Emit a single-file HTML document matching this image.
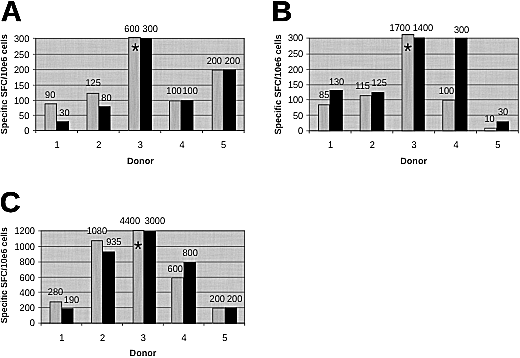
<!DOCTYPE html>
<html><head><meta charset="utf-8"><title>Figure</title>
<style>
html,body{margin:0;padding:0;background:#fff;}
body{width:520px;height:358px;overflow:hidden;}
svg{display:block;}
text{font-family:"Liberation Sans",Arial,sans-serif;fill:#383838;text-rendering:geometricPrecision;}
.t{font-size:9.75px;}
.b{font-size:9.1px;font-weight:bold;}
.L{font-size:28.6px;font-weight:bold;fill:#000;stroke:#000;stroke-width:0.5px;}
.s{font-size:21px;fill:#000;}
</style></head><body>
<svg width="520" height="358" viewBox="0 0 520 358">
<defs>
<pattern id="dots" width="2" height="2" patternUnits="userSpaceOnUse">
<rect width="2" height="2" fill="#c4c4c4"/>
<rect width="1" height="1" fill="#bababa"/>
<rect x="1" y="1" width="1" height="1" fill="#cccccc"/>
</pattern>
<filter id="noise" x="0" y="0" width="1" height="1" color-interpolation-filters="sRGB">
<feTurbulence type="fractalNoise" baseFrequency="0.45 0.03" numOctaves="2" seed="5" result="n1"/>
<feTurbulence type="fractalNoise" baseFrequency="0.03 0.45" numOctaves="2" seed="9" result="n2"/>
<feTurbulence type="fractalNoise" baseFrequency="0.7" numOctaves="1" seed="2" result="n3"/>
<feComposite in="n1" in2="n2" operator="arithmetic" k2="0.5" k3="0.5" result="n12"/>
<feComposite in="n12" in2="n3" operator="arithmetic" k2="0.65" k3="0.35" result="n"/>
<feColorMatrix in="n" type="matrix" values="0.16 0 0 0 0.69  0.16 0 0 0 0.69  0.16 0 0 0 0.69  0 0 0 0 1"/>
</filter>
<filter id="noiseb" x="0" y="0" width="1" height="1" color-interpolation-filters="sRGB">
<feTurbulence type="fractalNoise" baseFrequency="0.5 0.04" numOctaves="2" seed="11" result="n1"/>
<feTurbulence type="fractalNoise" baseFrequency="0.7" numOctaves="1" seed="4" result="n3"/>
<feComposite in="n1" in2="n3" operator="arithmetic" k2="0.6" k3="0.4" result="n"/>
<feColorMatrix in="n" type="matrix" values="0.16 0 0 0 0.61  0.16 0 0 0 0.61  0.16 0 0 0 0.61  0 0 0 0 1"/>
</filter>
<filter id="usm" x="0" y="0" width="520" height="358" filterUnits="userSpaceOnUse" color-interpolation-filters="sRGB">
<feGaussianBlur in="SourceGraphic" stdDeviation="0.3" result="s"/>
<feGaussianBlur in="s" stdDeviation="1.0" result="bl"/>
<feComposite in="s" in2="bl" operator="arithmetic" k1="0" k2="2.4" k3="-1.4" k4="0"/>
</filter>
</defs>
<g filter="url(#usm)">
<rect width="520" height="358" fill="#fff"/>
<rect x="35.8" y="38.3" width="208.30" height="92.20" fill="#c4c4c4" filter="url(#noise)"/>
<line x1="33.0" y1="130.50" x2="244.1" y2="130.50" stroke="#606060" stroke-width="0.75"/>
<text transform="translate(29.30,133.80) scale(0.94,1)" text-anchor="end" class="t">0</text>
<line x1="33.0" y1="115.30" x2="244.1" y2="115.30" stroke="#606060" stroke-width="0.75"/>
<text transform="translate(29.30,118.60) scale(0.94,1)" text-anchor="end" class="t">50</text>
<line x1="33.0" y1="100.40" x2="244.1" y2="100.40" stroke="#606060" stroke-width="0.75"/>
<text transform="translate(29.30,103.70) scale(0.94,1)" text-anchor="end" class="t">100</text>
<line x1="33.0" y1="85.20" x2="244.1" y2="85.20" stroke="#606060" stroke-width="0.75"/>
<text transform="translate(29.30,88.50) scale(0.94,1)" text-anchor="end" class="t">150</text>
<line x1="33.0" y1="69.60" x2="244.1" y2="69.60" stroke="#606060" stroke-width="0.75"/>
<text transform="translate(29.30,72.90) scale(0.94,1)" text-anchor="end" class="t">200</text>
<line x1="33.0" y1="54.30" x2="244.1" y2="54.30" stroke="#606060" stroke-width="0.75"/>
<text transform="translate(29.30,57.60) scale(0.94,1)" text-anchor="end" class="t">250</text>
<line x1="33.0" y1="38.30" x2="35.8" y2="38.30" stroke="#606060" stroke-width="0.75"/>
<text transform="translate(29.30,41.60) scale(0.94,1)" text-anchor="end" class="t">300</text>
<rect x="35.8" y="38.3" width="208.30" height="92.20" fill="none" stroke="#606060" stroke-width="0.85"/>
<rect x="45.00" y="103.88" width="11.60" height="26.62" fill="#b0b0b0" filter="url(#noiseb)"/>
<rect x="45.00" y="103.88" width="11.60" height="26.62" fill="none" stroke="#3c3c3c" stroke-width="0.8"/>
<rect x="56.60" y="121.38" width="12.40" height="9.52" fill="#000"/>
<rect x="87.00" y="93.30" width="11.80" height="37.20" fill="#b0b0b0" filter="url(#noiseb)"/>
<rect x="87.00" y="93.30" width="11.80" height="37.20" fill="none" stroke="#3c3c3c" stroke-width="0.8"/>
<rect x="98.80" y="106.36" width="11.70" height="24.54" fill="#000"/>
<rect x="128.80" y="37.70" width="11.50" height="92.80" fill="#b0b0b0" filter="url(#noiseb)"/>
<rect x="128.80" y="37.70" width="11.50" height="92.80" fill="none" stroke="#3c3c3c" stroke-width="0.8"/>
<rect x="140.30" y="38.30" width="11.50" height="92.60" fill="#000"/>
<rect x="169.60" y="100.90" width="11.30" height="29.60" fill="#b0b0b0" filter="url(#noiseb)"/>
<rect x="169.60" y="100.90" width="11.30" height="29.60" fill="none" stroke="#3c3c3c" stroke-width="0.8"/>
<rect x="180.90" y="100.40" width="12.50" height="30.50" fill="#000"/>
<rect x="212.20" y="70.10" width="11.00" height="60.40" fill="#b0b0b0" filter="url(#noiseb)"/>
<rect x="212.20" y="70.10" width="11.00" height="60.40" fill="none" stroke="#3c3c3c" stroke-width="0.8"/>
<rect x="223.20" y="69.60" width="12.80" height="61.30" fill="#000"/>
<line x1="35.80" y1="130.5" x2="35.80" y2="133.1" stroke="#606060" stroke-width="1"/>
<line x1="77.46" y1="130.5" x2="77.46" y2="133.1" stroke="#606060" stroke-width="1"/>
<line x1="119.12" y1="130.5" x2="119.12" y2="133.1" stroke="#606060" stroke-width="1"/>
<line x1="160.78" y1="130.5" x2="160.78" y2="133.1" stroke="#606060" stroke-width="1"/>
<line x1="202.44" y1="130.5" x2="202.44" y2="133.1" stroke="#606060" stroke-width="1"/>
<line x1="244.10" y1="130.5" x2="244.10" y2="133.1" stroke="#606060" stroke-width="1"/>
<text transform="translate(57.03,148.10) scale(0.94,1)" text-anchor="middle" class="t">1</text>
<text transform="translate(98.69,148.10) scale(0.94,1)" text-anchor="middle" class="t">2</text>
<text transform="translate(140.35,148.10) scale(0.94,1)" text-anchor="middle" class="t">3</text>
<text transform="translate(182.01,148.10) scale(0.94,1)" text-anchor="middle" class="t">4</text>
<text transform="translate(223.67,148.10) scale(0.94,1)" text-anchor="middle" class="t">5</text>
<text transform="translate(50.20,97.50) scale(0.94,1)" text-anchor="middle" class="t">90</text>
<text transform="translate(64.45,116.00) scale(0.94,1)" text-anchor="middle" class="t">30</text>
<text transform="translate(93.15,86.00) scale(0.94,1)" text-anchor="middle" class="t">125</text>
<text transform="translate(106.40,100.60) scale(0.94,1)" text-anchor="middle" class="t">80</text>
<text transform="translate(131.95,31.50) scale(0.94,1)" text-anchor="middle" class="t">600</text>
<text transform="translate(150.20,31.50) scale(0.94,1)" text-anchor="middle" class="t">300</text>
<text transform="translate(173.95,94.00) scale(0.94,1)" text-anchor="middle" class="t">100</text>
<text transform="translate(190.10,94.00) scale(0.94,1)" text-anchor="middle" class="t">100</text>
<text transform="translate(214.30,64.00) scale(0.94,1)" text-anchor="middle" class="t">200</text>
<text transform="translate(232.35,64.00) scale(0.94,1)" text-anchor="middle" class="t">200</text>
<text x="135.3" y="57.8" text-anchor="middle" class="s">*</text>
<text x="140.4" y="164.3" text-anchor="middle" class="b">Donor</text>
<text transform="translate(7.3,84.2) rotate(-90)" text-anchor="middle" textLength="100" lengthAdjust="spacingAndGlyphs" class="b">Specific SFC/10e6 cells</text>
<text x="0.9" y="21.4" class="L">A</text>
<rect x="309.2" y="38.1" width="209.10" height="92.70" fill="#c4c4c4" filter="url(#noise)"/>
<line x1="306.4" y1="130.80" x2="518.3" y2="130.80" stroke="#606060" stroke-width="0.75"/>
<text transform="translate(303.20,134.10) scale(0.94,1)" text-anchor="end" class="t">0</text>
<line x1="306.4" y1="115.20" x2="518.3" y2="115.20" stroke="#606060" stroke-width="0.75"/>
<text transform="translate(303.20,118.50) scale(0.94,1)" text-anchor="end" class="t">50</text>
<line x1="306.4" y1="99.70" x2="518.3" y2="99.70" stroke="#606060" stroke-width="0.75"/>
<text transform="translate(303.20,103.00) scale(0.94,1)" text-anchor="end" class="t">100</text>
<line x1="306.4" y1="84.80" x2="518.3" y2="84.80" stroke="#606060" stroke-width="0.75"/>
<text transform="translate(303.20,88.10) scale(0.94,1)" text-anchor="end" class="t">150</text>
<line x1="306.4" y1="69.40" x2="518.3" y2="69.40" stroke="#606060" stroke-width="0.75"/>
<text transform="translate(303.20,72.70) scale(0.94,1)" text-anchor="end" class="t">200</text>
<line x1="306.4" y1="54.10" x2="518.3" y2="54.10" stroke="#606060" stroke-width="0.75"/>
<text transform="translate(303.20,57.40) scale(0.94,1)" text-anchor="end" class="t">250</text>
<line x1="306.4" y1="38.10" x2="309.2" y2="38.10" stroke="#606060" stroke-width="0.75"/>
<text transform="translate(303.20,41.40) scale(0.94,1)" text-anchor="end" class="t">300</text>
<rect x="309.2" y="38.1" width="209.10" height="92.70" fill="none" stroke="#606060" stroke-width="0.85"/>
<rect x="318.60" y="104.85" width="11.00" height="25.95" fill="#b0b0b0" filter="url(#noiseb)"/>
<rect x="318.60" y="104.85" width="11.00" height="25.95" fill="none" stroke="#3c3c3c" stroke-width="0.8"/>
<rect x="329.60" y="90.00" width="13.10" height="41.20" fill="#000"/>
<rect x="360.10" y="95.73" width="11.40" height="35.07" fill="#b0b0b0" filter="url(#noiseb)"/>
<rect x="360.10" y="95.73" width="11.40" height="35.07" fill="none" stroke="#3c3c3c" stroke-width="0.8"/>
<rect x="371.50" y="92.25" width="12.80" height="38.95" fill="#000"/>
<rect x="402.00" y="34.70" width="11.90" height="96.10" fill="#b0b0b0" filter="url(#noiseb)"/>
<rect x="402.00" y="34.70" width="11.90" height="96.10" fill="none" stroke="#3c3c3c" stroke-width="0.8"/>
<rect x="413.90" y="37.60" width="10.80" height="93.60" fill="#000"/>
<rect x="442.80" y="100.20" width="12.10" height="30.60" fill="#b0b0b0" filter="url(#noiseb)"/>
<rect x="442.80" y="100.20" width="12.10" height="30.60" fill="none" stroke="#3c3c3c" stroke-width="0.8"/>
<rect x="454.90" y="37.80" width="12.50" height="93.40" fill="#000"/>
<rect x="484.80" y="128.20" width="11.80" height="2.60" fill="#e8e8e8"/>
<rect x="484.80" y="128.20" width="11.80" height="2.60" fill="none" stroke="#3c3c3c" stroke-width="0.8"/>
<rect x="496.60" y="121.44" width="12.30" height="9.76" fill="#000"/>
<line x1="309.20" y1="130.8" x2="309.20" y2="133.4" stroke="#606060" stroke-width="1"/>
<line x1="351.02" y1="130.8" x2="351.02" y2="133.4" stroke="#606060" stroke-width="1"/>
<line x1="392.84" y1="130.8" x2="392.84" y2="133.4" stroke="#606060" stroke-width="1"/>
<line x1="434.66" y1="130.8" x2="434.66" y2="133.4" stroke="#606060" stroke-width="1"/>
<line x1="476.48" y1="130.8" x2="476.48" y2="133.4" stroke="#606060" stroke-width="1"/>
<line x1="518.30" y1="130.8" x2="518.30" y2="133.4" stroke="#606060" stroke-width="1"/>
<text transform="translate(330.51,148.10) scale(0.94,1)" text-anchor="middle" class="t">1</text>
<text transform="translate(372.33,148.10) scale(0.94,1)" text-anchor="middle" class="t">2</text>
<text transform="translate(414.15,148.10) scale(0.94,1)" text-anchor="middle" class="t">3</text>
<text transform="translate(455.97,148.10) scale(0.94,1)" text-anchor="middle" class="t">4</text>
<text transform="translate(497.79,148.10) scale(0.94,1)" text-anchor="middle" class="t">5</text>
<text transform="translate(324.20,98.30) scale(0.94,1)" text-anchor="middle" class="t">85</text>
<text transform="translate(336.55,84.90) scale(0.94,1)" text-anchor="middle" class="t">130</text>
<text transform="translate(362.65,88.80) scale(0.94,1)" text-anchor="middle" class="t">115</text>
<text transform="translate(379.20,85.70) scale(0.94,1)" text-anchor="middle" class="t">125</text>
<text transform="translate(399.80,30.90) scale(0.94,1)" text-anchor="middle" class="t">1700</text>
<text transform="translate(422.90,30.90) scale(0.94,1)" text-anchor="middle" class="t">1400</text>
<text transform="translate(446.50,93.80) scale(0.94,1)" text-anchor="middle" class="t">100</text>
<text transform="translate(461.55,33.00) scale(0.94,1)" text-anchor="middle" class="t">300</text>
<text transform="translate(489.55,122.30) scale(0.94,1)" text-anchor="middle" class="t">10</text>
<text transform="translate(503.10,115.40) scale(0.94,1)" text-anchor="middle" class="t">30</text>
<text x="407.9" y="57.9" text-anchor="middle" class="s">*</text>
<text x="413.6" y="164.3" text-anchor="middle" class="b">Donor</text>
<text transform="translate(280.7,84.5) rotate(-90)" text-anchor="middle" textLength="100" lengthAdjust="spacingAndGlyphs" class="b">Specific SFC/10e6 cells</text>
<text x="271.6" y="21.0" class="L">B</text>
<rect x="41.1" y="230.9" width="203.60" height="92.20" fill="#c4c4c4" filter="url(#noise)"/>
<line x1="38.300000000000004" y1="323.10" x2="244.7" y2="323.10" stroke="#606060" stroke-width="0.75"/>
<text transform="translate(34.90,326.40) scale(0.94,1)" text-anchor="end" class="t">0</text>
<line x1="38.300000000000004" y1="307.60" x2="244.7" y2="307.60" stroke="#606060" stroke-width="0.75"/>
<text transform="translate(34.90,310.90) scale(0.94,1)" text-anchor="end" class="t">200</text>
<line x1="38.300000000000004" y1="292.20" x2="244.7" y2="292.20" stroke="#606060" stroke-width="0.75"/>
<text transform="translate(34.90,295.50) scale(0.94,1)" text-anchor="end" class="t">400</text>
<line x1="38.300000000000004" y1="277.30" x2="244.7" y2="277.30" stroke="#606060" stroke-width="0.75"/>
<text transform="translate(34.90,280.60) scale(0.94,1)" text-anchor="end" class="t">600</text>
<line x1="38.300000000000004" y1="262.00" x2="244.7" y2="262.00" stroke="#606060" stroke-width="0.75"/>
<text transform="translate(34.90,265.30) scale(0.94,1)" text-anchor="end" class="t">800</text>
<line x1="38.300000000000004" y1="246.50" x2="244.7" y2="246.50" stroke="#606060" stroke-width="0.75"/>
<text transform="translate(34.90,249.80) scale(0.94,1)" text-anchor="end" class="t">1000</text>
<line x1="38.300000000000004" y1="230.90" x2="41.1" y2="230.90" stroke="#606060" stroke-width="0.75"/>
<text transform="translate(34.90,234.20) scale(0.94,1)" text-anchor="end" class="t">1200</text>
<rect x="41.1" y="230.9" width="203.60" height="92.20" fill="none" stroke="#606060" stroke-width="0.85"/>
<rect x="50.00" y="301.94" width="11.70" height="21.16" fill="#b0b0b0" filter="url(#noiseb)"/>
<rect x="50.00" y="301.94" width="11.70" height="21.16" fill="none" stroke="#3c3c3c" stroke-width="0.8"/>
<rect x="61.70" y="308.38" width="11.70" height="15.13" fill="#000"/>
<rect x="91.60" y="240.76" width="10.90" height="82.34" fill="#b0b0b0" filter="url(#noiseb)"/>
<rect x="91.60" y="240.76" width="10.90" height="82.34" fill="none" stroke="#3c3c3c" stroke-width="0.8"/>
<rect x="102.50" y="251.54" width="12.30" height="71.96" fill="#000"/>
<rect x="133.10" y="230.50" width="10.70" height="92.60" fill="#b0b0b0" filter="url(#noiseb)"/>
<rect x="133.10" y="230.50" width="10.70" height="92.60" fill="none" stroke="#3c3c3c" stroke-width="0.8"/>
<rect x="143.80" y="231.00" width="12.00" height="92.50" fill="#000"/>
<rect x="171.80" y="277.80" width="11.80" height="45.30" fill="#b0b0b0" filter="url(#noiseb)"/>
<rect x="171.80" y="277.80" width="11.80" height="45.30" fill="none" stroke="#3c3c3c" stroke-width="0.8"/>
<rect x="183.60" y="262.00" width="12.30" height="61.50" fill="#000"/>
<rect x="212.80" y="308.10" width="12.20" height="15.00" fill="#b0b0b0" filter="url(#noiseb)"/>
<rect x="212.80" y="308.10" width="12.20" height="15.00" fill="none" stroke="#3c3c3c" stroke-width="0.8"/>
<rect x="225.00" y="307.60" width="12.10" height="15.90" fill="#000"/>
<line x1="41.10" y1="323.1" x2="41.10" y2="325.70000000000005" stroke="#606060" stroke-width="1"/>
<line x1="81.82" y1="323.1" x2="81.82" y2="325.70000000000005" stroke="#606060" stroke-width="1"/>
<line x1="122.54" y1="323.1" x2="122.54" y2="325.70000000000005" stroke="#606060" stroke-width="1"/>
<line x1="163.26" y1="323.1" x2="163.26" y2="325.70000000000005" stroke="#606060" stroke-width="1"/>
<line x1="203.98" y1="323.1" x2="203.98" y2="325.70000000000005" stroke="#606060" stroke-width="1"/>
<line x1="244.70" y1="323.1" x2="244.70" y2="325.70000000000005" stroke="#606060" stroke-width="1"/>
<text transform="translate(61.86,340.50) scale(0.94,1)" text-anchor="middle" class="t">1</text>
<text transform="translate(102.58,340.50) scale(0.94,1)" text-anchor="middle" class="t">2</text>
<text transform="translate(143.30,340.50) scale(0.94,1)" text-anchor="middle" class="t">3</text>
<text transform="translate(184.02,340.50) scale(0.94,1)" text-anchor="middle" class="t">4</text>
<text transform="translate(224.74,340.50) scale(0.94,1)" text-anchor="middle" class="t">5</text>
<text transform="translate(55.45,295.10) scale(0.94,1)" text-anchor="middle" class="t">280</text>
<text transform="translate(71.50,302.80) scale(0.94,1)" text-anchor="middle" class="t">190</text>
<rect x="88.4" y="229.70000000000002" width="17.70" height="1.2" fill="#fff"/>
<rect x="88.4" y="230.9" width="17.70" height="1.2" fill="#c4c4c4"/>
<text transform="translate(96.85,233.70) scale(0.94,1)" text-anchor="middle" class="t">1080</text>
<text transform="translate(113.80,245.40) scale(0.94,1)" text-anchor="middle" class="t">935</text>
<text transform="translate(129.85,223.80) scale(0.94,1)" text-anchor="middle" class="t">4400</text>
<text transform="translate(154.85,223.80) scale(0.94,1)" text-anchor="middle" class="t">3000</text>
<text transform="translate(175.25,272.00) scale(0.94,1)" text-anchor="middle" class="t">600</text>
<text transform="translate(190.15,256.10) scale(0.94,1)" text-anchor="middle" class="t">800</text>
<text transform="translate(217.20,302.40) scale(0.94,1)" text-anchor="middle" class="t">200</text>
<text transform="translate(234.60,302.40) scale(0.94,1)" text-anchor="middle" class="t">200</text>
<text x="138.2" y="255.7" text-anchor="middle" class="s">*</text>
<text x="143.0" y="356.1" text-anchor="middle" class="b">Donor</text>
<text transform="translate(7.3,275.2) rotate(-90)" text-anchor="middle" textLength="96" lengthAdjust="spacingAndGlyphs" class="b">Specific SFC/10e6 cells</text>
<text x="-0.2" y="212.4" class="L">C</text>
</g>
</svg>
</body></html>
